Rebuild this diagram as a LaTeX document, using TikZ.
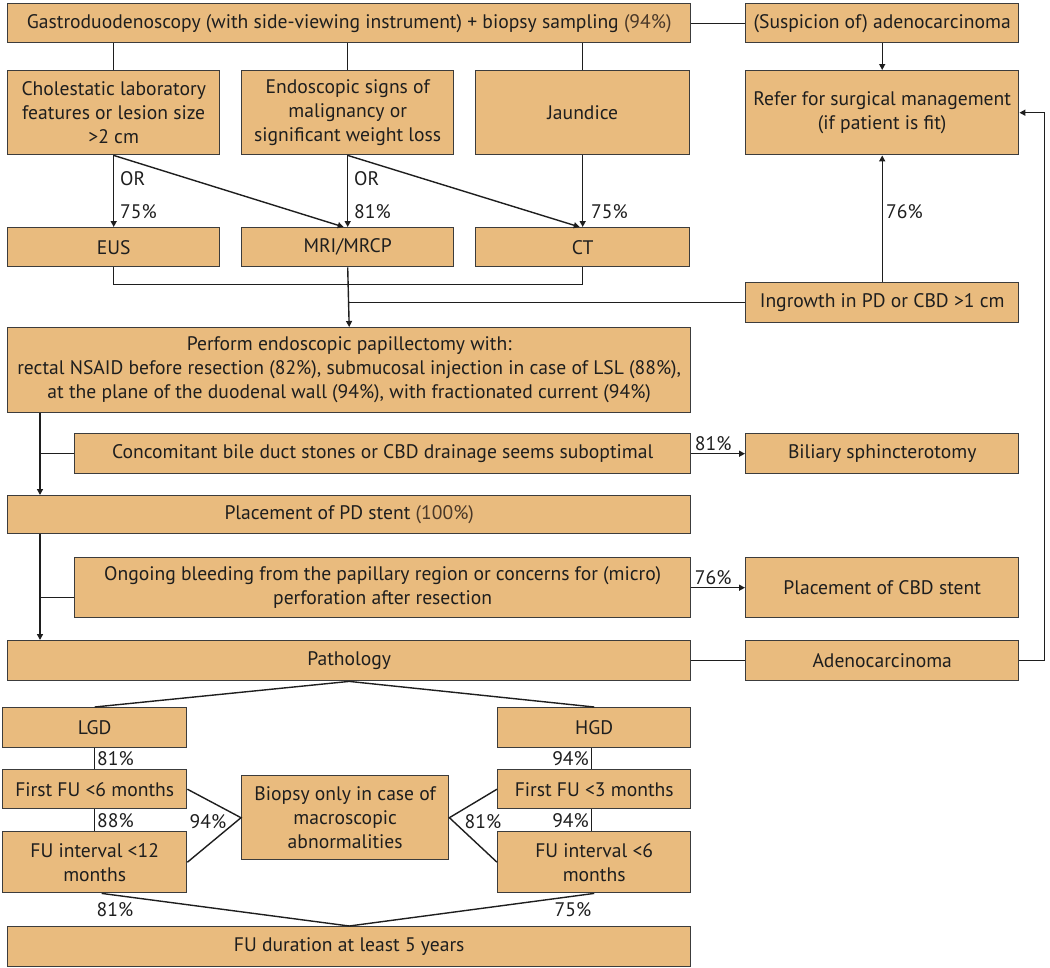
\documentclass[tikz,border=0pt]{standalone}
\usepackage{fontspec}
\setmainfont{PT Sans}
\usetikzlibrary{arrows.meta,calc}
\definecolor{boxfill}{HTML}{E9BB7E}
\definecolor{boxline}{HTML}{3C3C3C}
\definecolor{txt}{HTML}{1E1E1E}
\definecolor{pct}{HTML}{4A3828}
\tikzset{
  box/.style={draw=boxline, fill=boxfill, line width=1.4pt, inner sep=0pt, anchor=north west, align=center, text=txt, font=\fontsize{19.6}{24}\selectfont},
  conn/.style={draw=txt, line width=1.4pt},
  arr/.style={conn, -{Triangle[length=6pt,width=6pt]}},
  lbl/.style={text=txt, inner sep=0pt, font=\fontsize{19.6}{24}\selectfont}
}
\begin{document}
\begin{tikzpicture}[x=1pt,y=-1pt]
\useasboundingbox (0,0) rectangle (1050,967);
% nodes
\node[box, minimum width=683, minimum height=39] (top) at (7,3) {Gastroduodenoscopy (with side-viewing instrument) + biopsy sampling \textcolor{pct}{(94\%)}};
\node[box, minimum width=273, minimum height=39] (susp) at (745,3) {(Suspicion of) adenocarcinoma};
\node[box, minimum width=212, minimum height=84] (chol) at (7,70) {Cholestatic laboratory\\features or lesion size\\>2 cm};
\node[box, minimum width=212, minimum height=84] (endo) at (241,70) {Endoscopic signs of\\malignancy or\\significant weight loss};
\node[box, minimum width=214, minimum height=84] (jaun) at (475,70) {Jaundice};
\node[box, minimum width=273, minimum height=84] (refer) at (745,70) {Refer for surgical management\\(if patient is fit)};
\node[box, minimum width=212, minimum height=39] (eus) at (7,227) {EUS};
\node[box, minimum width=212, minimum height=39] (mri) at (241,227) {MRI/MRCP};
\node[box, minimum width=214, minimum height=39] (ct) at (475,227) {CT};
\node[box, minimum width=273, minimum height=40] (ingr) at (745,282) {Ingrowth in PD or CBD >1 cm};
\node[box, minimum width=683, minimum height=85] (perf) at (7,327) {Perform endoscopic papillectomy with:\\rectal NSAID before resection (82\%), submucosal injection in case of LSL (88\%),\\at the plane of the duodenal wall (94\%), with fractionated current (94\%)};
\node[box, minimum width=616, minimum height=40] (conc) at (74,433) {Concomitant bile duct stones or CBD drainage seems suboptimal};
\node[box, minimum width=273, minimum height=40] (bil) at (745,433) {Biliary sphincterotomy};
\node[box, minimum width=683, minimum height=38] (pd) at (7,495) {Placement of PD stent \textcolor{pct}{(100\%)}};
\node[box, minimum width=616, minimum height=60] (ong) at (74,557) {Ongoing bleeding from the papillary region or concerns for (micro)\\perforation after resection};
\node[box, minimum width=273, minimum height=60] (cbd) at (745,557) {Placement of CBD stent};
\node[box, minimum width=683, minimum height=40] (path) at (7,640) {Pathology};
\node[box, minimum width=273, minimum height=40] (adeno) at (745,640) {Adenocarcinoma};
\node[box, minimum width=184, minimum height=40] (lgd) at (2,707) {LGD};
\node[box, minimum width=193, minimum height=40] (hgd) at (497,707) {HGD};
\node[box, minimum width=184, minimum height=39] (f6) at (2,769) {First FU <6 months};
\node[box, minimum width=193, minimum height=39] (f3) at (497,769) {First FU <3 months};
\node[box, minimum width=184, minimum height=61] (i12) at (2,831) {FU interval <12\\months};
\node[box, minimum width=193, minimum height=61] (i6) at (497,831) {FU interval <6\\months};
\node[box, minimum width=207, minimum height=84] (bio) at (241,775) {Biopsy only in case of\\macroscopic\\abnormalities};
\node[box, minimum width=683, minimum height=40] (dur) at (7,926) {FU duration at least 5 years};
% connectors top section
\draw[conn] (top.east) -- (susp.west);
\draw[conn] (top.south -| chol.north) -- (chol.north);
\draw[conn] (top.south -| endo.north) -- (endo.north);
\draw[conn] (top.south -| jaun.north) -- (jaun.north);
\draw[arr] (chol.south) -- (eus.north);
\draw[arr] (chol.south) -- ([xshift=-4]mri.north);
\draw[arr] (endo.south) -- (mri.north);
\draw[arr] (endo.south) -- ([xshift=-3]ct.north);
\draw[arr] (jaun.south) -- (ct.north);
\node[lbl, anchor=west] (or1) at (120,179) {OR};
\node[lbl, anchor=west] (p1) at (120,212) {75\%};
\node[lbl, anchor=west] (or2) at (354,179) {OR};
\node[lbl, anchor=west] (p2) at (354,212) {81\%};
\node[lbl, anchor=west] (p3) at (591,212) {75\%};
\draw[arr] (susp.south) -- (refer.north);
\draw[arr] (ingr.north) -- (refer.south);
\node[lbl, anchor=west] (p4) at (886,212) {76\%};
\draw[conn] (eus.south) -- ++(0,17) -| (ct.south);
\draw[arr] (mri.south) -- (perf.north);
\draw[conn] (ingr.west) -- (ingr.west -| mri.south);
% middle section
\coordinate (v1) at ([xshift=33]perf.south west);
\draw[arr] (v1) -- (v1 |- pd.north);
\draw[conn] (conc.west) -- (conc.west -| v1);
\draw[arr] (conc.east) -- (bil.west);
\node[lbl, anchor=south] (p5) at ([xshift=-5,yshift=3]$(conc.east)!0.5!(bil.west)$) {81\%};
\coordinate (v2) at ([xshift=33]pd.south west);
\draw[arr] (v2) -- (v2 |- path.north);
\draw[conn] ([yshift=-10]ong.west) -- ([yshift=-10]ong.west -| v2);
\draw[arr] (ong.east) -- (cbd.west);
\node[lbl, anchor=south] (p6) at ([xshift=-5,yshift=3]$(ong.east)!0.5!(cbd.west)$) {76\%};
\draw[conn] (path.east) -- (adeno.west);
\draw[arr] (adeno.east) -- ++(25,0) |- (refer.east);
% bottom section
\draw[conn] (lgd.north) -- (path.south) -- (hgd.north);
\draw[conn] (lgd.south) -- (f6.north);
\draw[conn] (f6.south) -- (i12.north);
\draw[conn] ([xshift=-3]hgd.south) -- ([xshift=-3]f3.north);
\draw[conn] ([xshift=-3]f3.south) -- ([xshift=-3]i6.north);
\node[lbl, anchor=west] (p7) at (97,759) {81\%};
\node[lbl, anchor=west] (p8) at (97,821) {88\%};
\node[lbl, anchor=east] (p9) at (589,759) {94\%};
\node[lbl, anchor=east] (p10) at (589,821) {94\%};
\draw[conn] (f6.east) -- (bio.west) -- (i12.east);
\draw[conn] (f3.west) -- (bio.east) -- (i6.west);
\node[lbl] (p11) at (208,822) {94\%};
\node[lbl] (p12) at (483,822) {81\%};
\draw[conn] ([xshift=7]i12.south) -- (dur.north) -- (i6.south);
\node[lbl] (p13) at (115,910) {81\%};
\node[lbl] (p14) at (573,910) {75\%};
\end{tikzpicture}
\end{document}
